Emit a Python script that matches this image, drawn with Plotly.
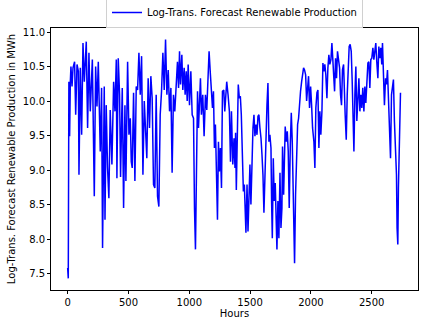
import plotly.graph_objects as go

hours = [
    0, 5, 10, 16, 22, 27, 36, 44, 57, 66, 77, 88, 93, 104, 115, 126, 137, 153, 164, 175,
    186, 203, 219, 230, 241, 252, 268, 279, 287, 301, 307, 317, 328, 339, 350, 364, 378, 389, 400, 405,
    416, 427, 435, 443,
    449, 460, 471, 479, 493, 504, 515, 523, 531, 542, 553, 564, 575, 586, 597, 608, 619, 630, 640, 651,
    662, 673, 684, 695, 706, 717, 728, 739, 750, 761, 772, 783, 794, 805, 816, 827, 838, 849, 859, 870,
    881, 892, 903,
    912, 920, 928, 939, 947, 958, 966, 975, 983, 991, 1002, 1013, 1024, 1035, 1043, 1051, 1059, 1068, 1076, 1084,
    1092, 1100, 1111, 1122, 1133, 1144, 1152, 1163, 1174, 1183, 1191, 1199, 1207, 1215, 1226, 1232, 1240, 1248, 1256, 1265,
    1273, 1284, 1292, 1300, 1308, 1319, 1330, 1339, 1347, 1358,
    1368, 1376, 1381, 1387, 1395, 1403, 1412, 1420, 1428, 1436, 1445, 1453, 1461, 1466, 1475, 1483, 1491, 1499, 1507, 1516,
    1524, 1532, 1540, 1549, 1557, 1565, 1573, 1581, 1590, 1598, 1606, 1614, 1622, 1631, 1639, 1647, 1655, 1663, 1672, 1677,
    1683, 1691, 1699, 1707, 1715, 1721, 1729, 1737, 1746, 1754, 1762, 1767, 1776, 1784, 1789, 1798, 1806,
    1814, 1822, 1831, 1839, 1847, 1855, 1861, 1866, 1874, 1883, 1891, 1899, 1907, 1915, 1924, 1932, 1940, 1948, 1957, 1965,
    1973, 1981, 1989, 1998, 2006, 2014, 2025, 2033, 2041, 2050, 2058, 2066, 2074, 2082, 2091, 2099, 2107, 2115, 2123, 2132,
    2140, 2148, 2156, 2165, 2173, 2181, 2189, 2195, 2203, 2211, 2219, 2228, 2236, 2244, 2252, 2260, 2269,
    2282, 2291, 2299, 2307, 2315, 2323, 2332, 2340, 2348, 2354, 2362, 2370, 2378, 2386, 2395, 2403, 2411, 2419, 2427, 2436,
    2444, 2452, 2460, 2469, 2477, 2485, 2493, 2501, 2510, 2518, 2526, 2534, 2542, 2551, 2559, 2567, 2575, 2583, 2589, 2597,
    2605, 2614, 2622, 2630, 2638, 2646, 2655, 2663, 2671, 2679, 2687, 2696, 2704, 2709, 2715, 2720, 2729, 2737,
]

log_production = [
    7.58, 7.43, 10.28, 9.49, 10.28, 10.50, 10.21, 10.48, 10.57, 9.80, 10.53, 10.43, 8.93, 10.48, 9.51, 10.84, 10.28, 10.86, 9.61, 10.70,
    9.85, 10.60, 8.62, 10.50, 9.92, 10.57, 9.27, 10.19, 7.87, 10.21, 8.28, 9.94, 9.03, 8.59, 9.87, 9.08, 10.28, 9.85, 10.60, 8.88,
    10.62, 10.09, 8.90, 10.16,
    10.19, 8.45, 9.94, 8.84, 10.57, 9.51, 9.75, 9.12, 9.03, 10.12, 8.84, 10.21, 10.16, 10.70, 10.09, 10.65, 8.93, 10.00, 9.61, 9.17,
    10.33, 9.61, 10.36, 10.04, 8.79, 8.74, 10.09, 8.62, 8.47, 9.80, 10.14, 10.70, 10.16, 10.89, 10.09, 10.45, 9.85, 10.19, 8.96, 10.09,
    9.85, 10.19, 10.57,
    10.19, 10.72, 10.24, 10.67, 10.16, 10.48, 10.09, 10.43, 10.00, 10.53, 9.94, 10.43, 9.80, 9.75, 8.45, 7.85, 8.93, 10.14, 9.61, 9.94,
    10.33, 9.80, 10.09, 9.49, 10.09, 9.87, 10.21, 10.72, 10.38, 10.19, 9.90, 10.14, 9.32, 9.66, 8.59, 8.28, 9.41, 8.98, 9.32, 8.74,
    10.14, 10.16, 9.85, 10.09, 10.28, 10.09, 9.85, 9.12, 9.85, 9.08,
    9.46, 9.03, 9.54, 8.71, 9.51, 10.24, 10.04, 10.07, 9.80, 9.37, 8.69, 8.79, 8.35, 8.09, 8.79, 8.11, 8.59, 9.08, 8.50, 9.12,
    9.61, 9.80, 9.49, 9.66, 9.51, 9.78, 9.80, 9.61, 9.46, 9.22, 8.93, 8.38, 8.93, 9.75, 9.94, 10.26, 9.41, 9.51, 9.32, 8.55,
    8.01, 9.17, 8.55, 8.81, 8.11, 7.85, 8.55, 8.01, 8.96, 8.16, 8.45, 9.34, 8.64, 9.08, 9.63, 9.41, 9.56,
    9.27, 8.45, 9.37, 9.83, 9.41, 8.84, 8.16, 7.65, 8.64, 9.17, 9.66, 9.75, 10.04, 10.14, 10.28, 10.43, 10.48, 10.45, 10.38, 10.00,
    10.24, 10.36, 9.90, 10.21, 9.94, 9.61, 9.41, 9.03, 9.90, 10.12, 10.16, 9.32, 9.85, 9.51, 9.85, 10.55, 10.43, 10.53, 10.38, 10.04,
    10.48, 10.67, 10.53, 10.60, 10.84, 10.62, 10.43, 10.14, 10.62, 10.33, 10.72, 10.62, 10.48, 10.09, 9.94, 10.45, 10.53,
    9.80, 9.44, 10.09, 10.57, 10.79, 10.82, 10.72, 10.28, 9.71, 9.27, 10.09, 10.50, 9.71, 10.09, 10.33, 9.85, 10.09, 9.90, 10.19, 9.85,
    10.21, 9.97, 10.24, 10.55, 10.57, 10.19, 10.60, 10.62, 10.77, 10.60, 10.72, 10.84, 10.57, 10.33, 10.79, 10.62, 10.77, 10.53, 10.84, 10.43,
    9.94, 10.33, 10.24, 10.45, 9.94, 9.46, 9.17, 10.09, 10.21, 10.31, 9.71, 9.39, 8.93, 8.16, 7.92, 8.74, 9.46, 10.12,
]

x_ticks = [0, 500, 1000, 1500, 2000, 2500]
y_ticks = [7.5, 8.0, 8.5, 9.0, 9.5, 10.0, 10.5, 11.0]

font = {"family": "DejaVu Sans", "size": 10, "color": "#000000"}

figure = go.Figure(
    go.Scatter(
        x=hours,
        y=log_production,
        mode="lines",
        name="Log-Trans. Forecast Renewable Production",
        line={"color": "#0000ff", "width": 1.5},
    )
)

axis_style = {
    "showline": True,
    "mirror": True,
    "linecolor": "#000000",
    "linewidth": 0.9,
    "ticks": "outside",
    "ticklen": 3,
    "tickwidth": 0.9,
    "tickcolor": "#000000",
    "showgrid": False,
    "zeroline": False,
    "automargin": False,
    "tickfont": font,
}

figure.update_layout(
    width=426,
    height=328,
    margin={"l": 51, "r": 8, "t": 28, "b": 38, "autoexpand": False},
    paper_bgcolor="#ffffff",
    plot_bgcolor="#ffffff",
    font=font,
    showlegend=True,
    legend={
        "x": 0.5,
        "xanchor": "center",
        "y": 1.0,
        "yanchor": "bottom",
        "bordercolor": "#d0d0d0",
        "borderwidth": 1,
        "font": font,
        "itemwidth": 30,
        "tracegroupgap": 0,
    },
    xaxis={
        **axis_style,
        "range": [-137, 2881],
        "tickvals": x_ticks,
        "title": {"text": "Hours", "font": font, "standoff": 3},
    },
    yaxis={
        **axis_style,
        "range": [7.261, 11.058],
        "tickvals": y_ticks,
        "tickformat": ".1f",
        "title": {"text": "Log-Trans. Forecast Renewable Production in MWh", "font": font, "standoff": 5},
    },
)

# the page has a default body margin; drop it so the figure sits at the top-left corner
figure.write_html(
    "out.html",
    config={"displayModeBar": False},
    post_script="document.body.style.margin = '0px';",
)
